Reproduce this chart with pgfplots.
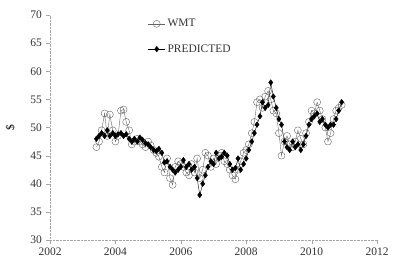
\documentclass[border=0pt]{standalone}
\usepackage{pgfplots}
\pgfplotsset{compat=1.18}
\usepackage{fontspec}
\setmainfont{Liberation Serif}
\begin{document}
\fontsize{11.5}{13}\selectfont
\begin{tikzpicture}[x=1pt,y=1pt]
\begin{axis}[name=ax,
  scale only axis, width=327pt, height=225pt,
  xmin=2002, xmax=2012, ymin=30, ymax=70,
  xtick={2002,2004,...,2012}, ytick={30,35,...,70},
  axis lines=left, axis line style={-, gray!70, densely dotted},
  tick style={gray!70, solid}, tick align=outside, major tick length=4pt,
  /pgf/number format/1000 sep={},
  /pgf/number format/assume math mode=true,
  tick label style={font=\fontsize{11.5}{13}\selectfont, text=black!80},
  ylabel={\$}, ylabel style={font=\fontsize{11.5}{13}\selectfont, at={(axis description cs:-0.095,0.5)}},
  legend style={draw=none, fill=none, at={(0.29,1.0)}, anchor=north west,
    font=\fontsize{11.5}{13}\selectfont, row sep=12pt, text=black!80},
  legend cell align=left,
]
\addplot[gray!80!black, thin, mark=o, mark size=3.5pt, mark options={gray!80!black, thin}] coordinates {
(2003.42,46.5)(2003.50,47.5)(2003.58,49.5)(2003.67,52.5)(2003.75,48.5)(2003.83,52.3)
(2003.92,49.5)(2004.00,47.5)(2004.08,48.5)(2004.17,53.0)(2004.25,53.2)(2004.33,51.0)
(2004.42,49.5)(2004.50,47.0)(2004.58,47.5)(2004.67,48.0)(2004.75,47.5)(2004.83,47.0)
(2004.92,46.5)(2005.00,47.5)(2005.08,46.8)(2005.17,46.0)(2005.25,45.5)(2005.33,44.8)
(2005.42,43.0)(2005.50,42.0)(2005.58,44.5)(2005.67,41.0)(2005.75,39.8)(2005.83,43.0)
(2005.92,44.0)(2006.00,43.5)(2006.08,43.0)(2006.17,42.0)(2006.25,41.5)(2006.33,43.5)
(2006.42,42.0)(2006.50,44.5)(2006.58,41.0)(2006.67,42.5)(2006.75,45.5)(2006.83,45.0)
(2006.92,43.0)(2007.00,44.5)(2007.08,43.5)(2007.17,45.0)(2007.25,45.5)(2007.33,44.0)
(2007.42,43.5)(2007.50,42.5)(2007.58,41.5)(2007.67,40.8)(2007.75,42.5)(2007.83,44.0)
(2007.92,45.5)(2008.00,46.0)(2008.08,47.0)(2008.17,49.0)(2008.25,51.0)(2008.33,54.5)
(2008.42,55.0)(2008.50,53.5)(2008.58,55.5)(2008.67,56.5)(2008.75,55.0)(2008.83,53.0)
(2008.92,52.5)(2009.00,49.0)(2009.08,45.0)(2009.17,47.5)(2009.25,48.5)(2009.33,47.0)
(2009.42,46.5)(2009.50,47.5)(2009.58,49.5)(2009.67,48.0)(2009.75,47.0)(2009.83,49.0)
(2009.92,51.0)(2010.00,53.0)(2010.08,52.5)(2010.17,54.5)(2010.25,53.0)(2010.33,51.5)
(2010.42,50.0)(2010.50,47.5)(2010.58,49.0)(2010.67,51.5)(2010.75,53.0)(2010.83,53.5)
(2010.92,54.0)
};
\addlegendentry{WMT}
\addplot[black, thin, mark=diamond*, mark size=2.8pt, mark options={black}] coordinates {
(2003.42,48.0)(2003.50,48.5)(2003.58,49.0)(2003.67,48.5)(2003.75,49.5)(2003.83,48.5)
(2003.92,49.0)(2004.00,48.5)(2004.08,48.8)(2004.17,49.0)(2004.25,48.5)(2004.33,48.8)
(2004.42,48.0)(2004.50,47.5)(2004.58,48.0)(2004.67,47.5)(2004.75,48.2)(2004.83,47.8)
(2004.92,47.2)(2005.00,47.0)(2005.08,46.5)(2005.17,46.0)(2005.25,45.8)(2005.33,46.2)
(2005.42,45.5)(2005.50,43.8)(2005.58,44.0)(2005.67,43.0)(2005.75,42.5)(2005.83,42.0)
(2005.92,42.5)(2006.00,43.0)(2006.08,44.2)(2006.17,43.0)(2006.25,43.5)(2006.33,42.5)
(2006.42,43.0)(2006.50,41.0)(2006.58,38.0)(2006.67,40.0)(2006.75,41.5)(2006.83,43.0)
(2006.92,44.0)(2007.00,43.5)(2007.08,45.5)(2007.17,44.5)(2007.25,44.8)(2007.33,45.5)
(2007.42,45.0)(2007.50,43.5)(2007.58,42.5)(2007.67,42.8)(2007.75,44.5)(2007.83,42.5)
(2007.92,43.5)(2008.00,44.5)(2008.08,46.0)(2008.17,47.5)(2008.25,49.0)(2008.33,50.5)
(2008.42,52.0)(2008.50,54.5)(2008.58,53.5)(2008.67,54.0)(2008.75,58.0)(2008.83,55.5)
(2008.92,53.5)(2009.00,51.5)(2009.08,50.5)(2009.17,47.5)(2009.25,46.5)(2009.33,46.0)
(2009.42,47.5)(2009.50,46.5)(2009.58,47.0)(2009.67,46.0)(2009.75,47.0)(2009.83,48.5)
(2009.92,50.5)(2010.00,51.5)(2010.08,52.0)(2010.17,52.5)(2010.25,51.0)(2010.33,51.5)
(2010.42,50.5)(2010.50,50.0)(2010.58,50.5)(2010.67,50.5)(2010.75,51.5)(2010.83,53.0)
(2010.92,54.5)
};
\addlegendentry{PREDICTED}
\end{axis}
\pgfresetboundingbox
\path[use as bounding box] ([shift={(-50pt,-28pt)}]ax.south west) rectangle ([shift={(23pt,15pt)}]ax.north east);
\end{tikzpicture}
\end{document}
